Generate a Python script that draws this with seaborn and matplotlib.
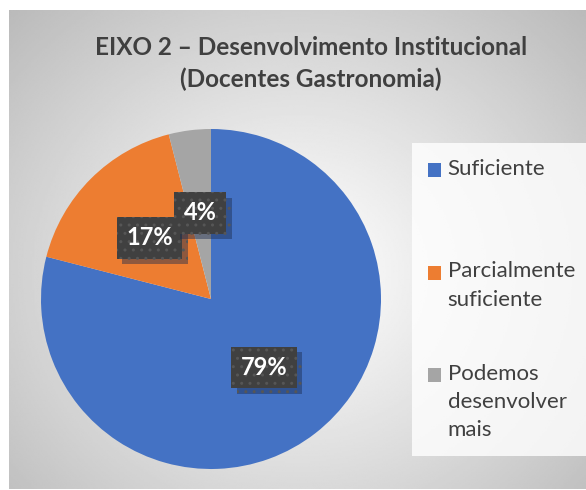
import numpy as np
import matplotlib
matplotlib.use("Agg")
import matplotlib.pyplot as plt
import matplotlib.patheffects as pe
from matplotlib.legend_handler import HandlerPatch
from matplotlib.patches import Rectangle
import seaborn as sns

categories = ["Suficiente", "Parcialmente\nsuficiente", "Podemos\ndesenvolver\nmais"]
values = [79, 17, 4]
colors = ["#4472C4", "#ED7D31", "#A5A5A5"]
title = "EIXO 2 – Desenvolvimento Institucional\n(Docentes Gastronomia)"

sns.set_theme(style="white")
plt.rcParams['font.family'] = ['Lato', 'DejaVu Sans']

LEG_FS = 16
LEG_LS = 1.52
NLINES = max(c.count("\n") + 1 for c in categories)


class TopSquare(HandlerPatch):
    # square aligned with the first line of the label
    def __init__(self, nlines, step):
        super().__init__()
        self.nlines = nlines
        self.step = step

    def create_artists(self, legend, orig_handle, xdescent, ydescent, width, height, fontsize, trans):
        shift = (self.nlines - 1) / 2 * self.step * fontsize
        p = Rectangle((-xdescent, -ydescent + shift), width, height,
                      facecolor=orig_handle.get_facecolor(), linewidth=0)
        p.set_transform(trans)
        return [p]


fig = plt.figure(figsize=(5.86, 4.90), dpi=100)
fig.patch.set_facecolor("white")

# panel background with radial gradient
bg = fig.add_axes([9/586, 1/490, 577/586, 479/490])
yy, xx = np.mgrid[0:1:300j, 0:1:360j]
d = np.sqrt(((xx - 0.5) / 0.5) ** 2 + ((yy - 0.55) / 0.55) ** 2) / np.sqrt(2)
shade = 1 - 0.27 * np.clip(d, 0, 1) ** 1.1
bg.imshow(shade, cmap="gray", vmin=0, vmax=1, aspect="auto", interpolation="bilinear")
bg.set_axis_off()

# pie
ax = fig.add_axes([41/586, 21/490, 340/586, 340/490])
wedges, texts, autotexts = ax.pie(values, colors=colors, startangle=90, counterclock=False,
                                  autopct="%1.0f%%", pctdistance=0.51,
                                  wedgeprops=dict(linewidth=0))
ax.set_xlim(-1, 1)
ax.set_ylim(-1, 1)

for t in autotexts:
    t.set_color("white")
    t.set_fontsize(17)
    t.set_fontweight("bold")
    t.set_bbox(dict(boxstyle="square,pad=0.4", facecolor="#404040", edgecolor="#565656",
                    hatch="..", linewidth=0))
    t.get_bbox_patch().set_path_effects([
        pe.SimplePatchShadow(offset=(4, -4), shadow_rgbFace="#1c2c50", alpha=0.45),
        pe.Normal()])
    t.set_zorder(5)

fig.text(311/586, 1 - 63.5/490, title, ha="center", va="center", fontsize=17.5,
         fontweight="bold", color="#404040", linespacing=1.4)

# every entry gets the same height so the entries sit at even steps, as in the original
leg_labels = [c + "\n" * (NLINES - 1 - c.count("\n")) for c in categories]
handler_map = {w: TopSquare(NLINES, LEG_LS * 0.8) for w in wedges}
leg = fig.legend(wedges, leg_labels, loc="upper left", bbox_to_anchor=(412/586, 1 - 143/490),
                 frameon=True, fontsize=LEG_FS, labelspacing=1.17, handlelength=0.6,
                 handleheight=0.6, handletextpad=0.3, borderpad=0.7, borderaxespad=0,
                 labelcolor="#404040", fancybox=False, handler_map=handler_map)
leg.get_frame().set_facecolor((1, 1, 1, 0.4))
leg.get_frame().set_linewidth(0)
for txt in leg.get_texts():
    txt.set_linespacing(LEG_LS)

fig.savefig("out.png", dpi=100)
